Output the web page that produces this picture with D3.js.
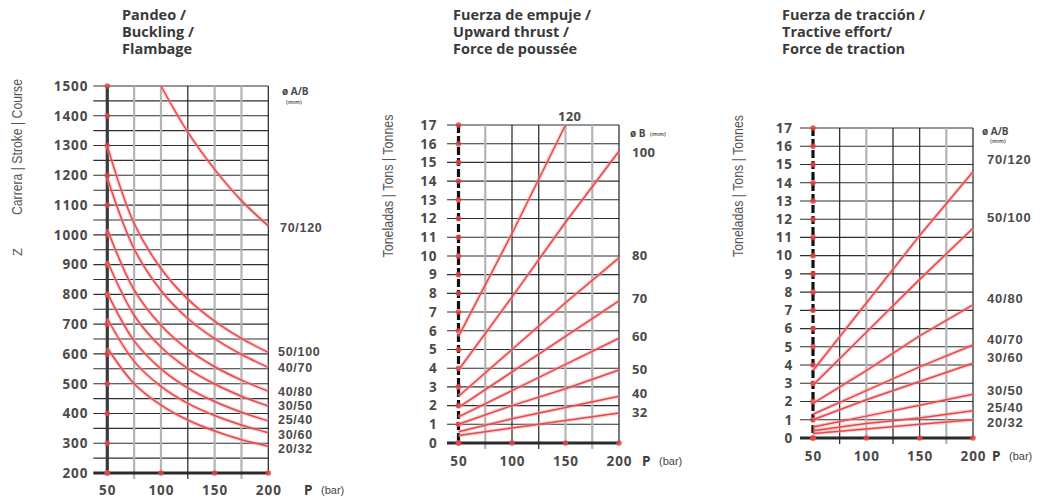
<!DOCTYPE html>
<html>
<head>
<meta charset="utf-8">
<script src="https://cdn.jsdelivr.net/npm/d3@7"></script>
<style>
body { margin: 0; background: #fff; }
text { font-family: "Open Sans", sans-serif; }
</style>
</head>
<body>
<svg id="chart" width="1050" height="501"></svg>
<script>
// Data
var pressure = [50, 75, 100, 125, 150, 175, 200];		// P (bar), buckling chart
var pressure4 = [50, 100, 150, 200];				// P (bar), force charts

var pandeoSeries = ["70/120", "50/100", "40/70", "40/80", "30/50", "25/40", "30/60", "20/32"];
var pandeoStroke = [
	[null, null, 1500, 1345, 1220, 1115, 1030],
	[1298, 1038, 887, 784, 710, 652, 605],
	[1191, 953, 813, 719, 651, 598, 555],
	[1019, 815, 696, 615, 557, 512, 475],
	[912, 730, 623, 551, 499, 458, 425],
	[805, 644, 550, 486, 440, 404, 375],
	[719, 575, 491, 434, 393, 361, 335],
	[620, 500, 428, 378, 341, 312, 290]
];
var pandeoTicks = [200, 300, 400, 500, 600, 700, 800, 900, 1000, 1100, 1200, 1300, 1400, 1500];

var empujeSeries = ["120", "100", "80", "70", "60", "50", "40", "32"];
var empujeTons = [
	[5.7, 11.2, 17, null],
	[3.9, 7.8, 11.8, 15.6],
	[2.5, 5.0, 7.5, 9.9],
	[1.9, 3.8, 5.7, 7.6],
	[1.4, 2.8, 4.2, 5.6],
	[1.0, 2.0, 2.9, 3.9],
	[0.6, 1.3, 1.9, 2.5],
	[0.4, 0.8, 1.2, 1.6]
];

var traccionSeries = ["70/120", "50/100", "40/80", "40/70", "30/60", "30/50", "25/40", "20/32"];
var traccionTons = [
	[3.7, 7.4, 11.1, 14.6],
	[2.9, 5.8, 8.7, 11.5],
	[1.9, 3.7, 5.6, 7.3],
	[1.3, 2.6, 3.9, 5.1],
	[1.0, 2.1, 3.1, 4.1],
	[0.6, 1.2, 1.8, 2.4],
	[0.4, 0.8, 1.1, 1.5],
	[0.25, 0.5, 0.75, 1.0]
];
var tonTicks = [0, 1, 2, 3, 4, 5, 6, 7, 8, 9, 10, 11, 12, 13, 14, 15, 16, 17];
var pTicks = [50, 100, 150, 200];

var svg = d3.select("#chart");
var red = "#e8464a";

function drawPanel(c) {
	var g = svg.append("g");
	var x = d3.scaleLinear().domain([50, 200]).range([c.x0, c.x1]);
	var y = d3.scaleLinear().domain(c.yDomain).range([c.yBot, c.yTop]);

	// horizontal grid (extends left as tick marks)
	g.selectAll("line.h").data(c.grid).enter().append("line")
		.attr("x1", c.x0 - c.tick).attr("x2", c.x1)
		.attr("y1", function(d) { return y(d); }).attr("y2", function(d) { return y(d); })
		.attr("stroke", "#2e2e2e")
		.attr("stroke-width", 1.1);

	// vertical grid
	g.selectAll("line.v").data(c.vlines).enter().append("line")
		.attr("x1", function(d) { return x(d.p); }).attr("x2", function(d) { return x(d.p); })
		.attr("y1", c.yTop).attr("y2", function(d) { return d.p % 50 == 0 ? c.yBot : c.yBot + 6; })
		.attr("stroke", function(d) { return d.dark ? "#222" : "#b4b4b4"; })
		.attr("stroke-width", function(d) { return d.dark ? 1.2 : 2.2; });

	// y axis labels
	var ya = g.append("g").attr("transform", "translate(" + c.x0 + ",0)")
		.call(d3.axisLeft(y).tickValues(c.labels).tickSize(0).tickPadding(c.pad)
			.tickFormat(d3.format("d")));
	ya.select(".domain").remove();
	ya.selectAll("text").attr("font-size", 13.5).attr("font-weight", 700)
		.attr("fill", "#4a4a4a").attr("letter-spacing", 0.9)
		.style("font-family", "'Open Sans', sans-serif");

	// x axis labels
	var xa = g.append("g").attr("transform", "translate(0," + c.yBot + ")")
		.call(d3.axisBottom(x).tickValues(pTicks).tickSize(0).tickPadding(c.xpad)
			.tickFormat(d3.format("d")));
	xa.select(".domain").remove();
	xa.selectAll("text").attr("font-size", 13.5).attr("font-weight", 700)
		.attr("fill", "#4a4a4a").attr("letter-spacing", 1)
		.style("font-family", "'Open Sans', sans-serif");

	// axes lines
	g.append("line").attr("x1", c.x0 - c.tick).attr("x2", c.x1)
		.attr("y1", c.yBot).attr("y2", c.yBot)
		.attr("stroke", "#2a2a2a").attr("stroke-width", 3);
	g.append("line").attr("x1", c.x0).attr("x2", c.x0)
		.attr("y1", c.yTop).attr("y2", c.yBot)
		.attr("stroke", c.dashed ? "#111" : "#3a3a3a").attr("stroke-width", 3.2)
		.attr("stroke-dasharray", c.dashed ? "8,3" : null);

	// red dots on axes
	g.selectAll("circle.ydot").data(c.labels).enter().append("circle")
		.attr("cx", c.x0).attr("cy", function(d) { return y(d); })
		.attr("r", 2.8).attr("fill", red).attr("fill-opacity", 0.85);
	g.selectAll("circle.xdot").data(pTicks).enter().append("circle")
		.attr("cx", function(d) { return x(d); }).attr("cy", c.yBot)
		.attr("r", 2.8).attr("fill", red).attr("fill-opacity", 0.85);

	// curves
	var line = d3.line()
		.defined(function(d) { return d[1] != null; })
		.x(function(d) { return x(d[0]); })
		.y(function(d) { return y(d[1]); })
		.curve(c.smooth ? d3.curveCatmullRom.alpha(0.5) : d3.curveLinear);
	var pts = c.values.map(function(v) {
		return v.map(function(d, i) { return [c.px[i], d]; });
	});
	g.selectAll("path.halo").data(pts).enter().append("path")
		.attr("d", line).attr("fill", "none")
		.attr("stroke", "#f3a3a3").attr("stroke-width", 3.8).attr("stroke-opacity", 0.5);
	g.selectAll("path.curve").data(pts).enter().append("path")
		.attr("d", line).attr("fill", "none")
		.attr("stroke", red).attr("stroke-width", 1.5);

	// series labels
	g.selectAll("text.lab").data(c.series).enter().append("text")
		.attr("x", function(d, i) { return c.labX[i] != null ? c.labX[i] : c.labX0; })
		.attr("y", function(d, i) { return y(c.labY[i]); })
		.attr("dy", "0.35em")
		.attr("font-size", c.labSize).attr("font-weight", 700).attr("fill", "#4a4a4a")
		.attr("letter-spacing", c.labSpacing)
		.style("font-family", c.labFont)
		.text(function(d) { return d; });

	// title
	g.append("text").attr("x", c.titleX).attr("y", 20)
		.attr("font-size", 14.5).attr("font-weight", 700).attr("fill", "#3a3a3a")
		.selectAll("tspan").data(c.title).enter().append("tspan")
		.attr("x", c.titleX).attr("dy", function(d, i) { return i == 0 ? 0 : 17; })
		.text(function(d) { return d; });

	// P (bar)
	g.append("text").attr("x", c.pX).attr("y", c.yBot + c.xpad).attr("dy", "0.71em")
		.attr("font-size", 13.5).attr("font-weight", 700).attr("fill", "#3a3a3a").text("P");
	g.append("text").attr("x", c.pX + 17).attr("y", c.yBot + c.xpad + 1).attr("dy", "0.71em")
		.attr("font-size", 11).attr("fill", "#444")
		.style("font-family", "'Liberation Sans Narrow', 'Liberation Sans', sans-serif")
		.text("(bar)");

	// rotated axis title
	g.append("text")
		.attr("transform", "translate(" + c.ytX + "," + c.ytY + ") rotate(-90)")
		.attr("text-anchor", "middle").attr("font-size", 14).attr("fill", "#555")
		.attr("textLength", c.ytLen).attr("lengthAdjust", "spacingAndGlyphs")
		.style("font-family", "'Liberation Sans Narrow', 'Liberation Sans', sans-serif")
		.text(c.ytText);

	// diameter header
	g.append("text").attr("x", c.hdX).attr("y", c.hdY).attr("dy", "0.35em")
		.attr("font-size", 10).attr("font-weight", 700).attr("fill", "#4a4a4a")
		.text(c.hdText);
	g.append("text").attr("x", c.mmX).attr("y", c.mmY).attr("dy", "0.35em")
		.attr("font-size", 6).attr("font-weight", 700).attr("fill", "#666")
		.text("(mm)");
	return { x: x, y: y, g: g };
}

// Pandeo / Buckling
var p1 = drawPanel({
	x0: 107.3, x1: 268.3, yTop: 86, yBot: 473, yDomain: [200, 1500],
	tick: 14, pad: 19, xpad: 12, dashed: false, smooth: true,
	grid: [250, 300, 350, 400, 450, 500, 550, 600, 650, 700, 750, 800, 850, 900, 950, 1000,
		1050, 1100, 1150, 1200, 1250, 1300, 1350, 1400, 1450, 1500],
	vlines: [{p: 75, dark: false}, {p: 100, dark: false}, {p: 125, dark: true},
		{p: 150, dark: false}, {p: 175, dark: false}, {p: 200, dark: true}],
	labels: pandeoTicks,
	px: pressure, values: pandeoStroke, series: pandeoSeries,
	labX0: 278, labX: [280], labSize: 12.5, labSpacing: 0.7,
	labFont: "'Liberation Sans', Arial, sans-serif",
	labY: [1023, 607, 553, 475, 427, 378, 329, 281],
	title: ["Pandeo /", "Buckling /", "Flambage"], titleX: 122,
	pX: 304,
	ytX: 22, ytY: 147, ytLen: 136, ytText: "Carrera  |  Stroke  |  Course",
	hdX: 282, hdY: 91, hdText: "ø A/B", mmX: 286, mmY: 102
});
p1.g.append("text")
	.attr("transform", "translate(22,252) rotate(-90)")
	.attr("text-anchor", "middle").attr("font-size", 13).attr("fill", "#555")
	.style("font-family", "'Liberation Sans Narrow', 'Liberation Sans', sans-serif")
	.text("Z");

// Fuerza de empuje / Upward thrust
var p2 = drawPanel({
	x0: 458.5, x1: 619, yTop: 125, yBot: 443, yDomain: [0, 17],
	tick: 11.5, pad: 21, xpad: 13, dashed: true, smooth: false,
	grid: [1, 2, 3, 4, 5, 6, 7, 8, 9, 10, 11, 12, 13, 14, 15, 16, 17],
	vlines: [{p: 75, dark: false}, {p: 100, dark: true}, {p: 125, dark: true},
		{p: 150, dark: false}, {p: 175, dark: false}, {p: 200, dark: true}],
	labels: tonTicks,
	px: pressure4, values: empujeTons, series: empujeSeries,
	labX0: 632, labX: [558], labSize: 13, labSpacing: 0.3,
	labFont: "'Open Sans', sans-serif",
	labY: [17.45, 15.55, 10.05, 7.75, 5.7, 3.95, 2.65, 1.65],
	title: ["Fuerza de empuje /", "Upward thrust /", "Force de poussée"], titleX: 453,
	pX: 642,
	ytX: 393, ytY: 186, ytLen: 143, ytText: "Toneladas  |  Tons  |  Tonnes",
	hdX: 630, hdY: 133, hdText: "ø B", mmX: 650, mmY: 134
});

// Fuerza de tracción / Tractive effort
var p3 = drawPanel({
	x0: 813, x1: 973, yTop: 128, yBot: 438, yDomain: [0, 17],
	tick: 13, pad: 20, xpad: 13, dashed: true, smooth: false,
	grid: [1, 2, 3, 4, 5, 6, 7, 8, 9, 10, 11, 12, 13, 14, 15, 16, 17],
	vlines: [{p: 75, dark: true}, {p: 100, dark: false}, {p: 125, dark: true},
		{p: 150, dark: true}, {p: 175, dark: false}, {p: 200, dark: true}],
	labels: tonTicks,
	px: pressure4, values: traccionTons, series: traccionSeries,
	labX0: 987, labX: [], labSize: 13, labSpacing: 0.8,
	labFont: "'Liberation Sans', Arial, sans-serif",
	labY: [15.25, 12.07, 7.68, 5.38, 4.4, 2.63, 1.68, 0.84],
	title: ["Fuerza de tracción /", "Tractive effort/", "Force de traction"], titleX: 782,
	pX: 992,
	ytX: 743, ytY: 186, ytLen: 142, ytText: "Toneladas  |  Tons  |  Tonnes",
	hdX: 982, hdY: 131, hdText: "ø A/B", mmX: 990, mmY: 141
});
</script>
</body>
</html>
